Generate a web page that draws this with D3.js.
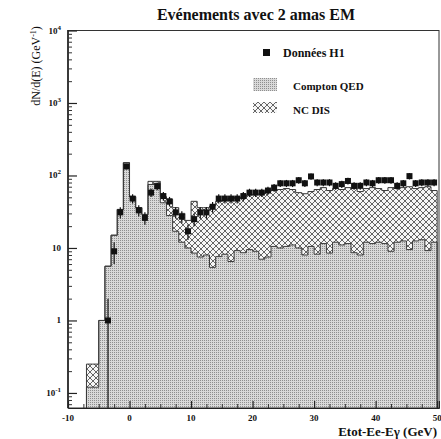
<!DOCTYPE html>
<html>
<head>
<meta charset="utf-8">
<script src="https://cdn.jsdelivr.net/npm/d3@7"></script>
<style>
  body { margin: 0; background: #fff; }
  svg text { font-family: "Liberation Serif", "DejaVu Serif", serif; fill: #111; }
</style>
</head>
<body>
<div id="chart"></div>
<script>
// bords des bins (GeV), 1 GeV par bin, de -7 a 50
const binEdges = d3.range(-7, 51);

// Compton QED (zone pointillee)
const compton = [0.12, 0.12, 1.0, 5.6, 15, 34, 150, 51, 36, 29,
  75, 78, 42, 28, 17, 12, 10, 8.5, 7.5, 8,
  5.4, 7.6, 8.2, 6.5, 9.2, 8.6, 9.5, 9.0, 7.0, 7.5,
  10.5, 10, 10.5, 11, 10, 8.0, 10.5, 8.2, 11.5, 8.5,
  12, 11, 11.5, 8.6, 8.0, 12, 11.5, 12, 11.5, 9.0,
  12, 12.5, 9.5, 12.5, 13, 9.2, 12];

// NC DIS (hachures), empile sur Compton
const ncdis = [0.13, 0.13, 0, 0, 0, 0, 0, 0, 0, 0,
  8, 5, 9, 19, 19, 18, 14, 35.5, 28.5, 28,
  32.6, 36.4, 37.8, 41.5, 40.8, 41.4, 44.5, 46, 49, 52.5,
  51.5, 54, 55.5, 53, 48, 48, 49.5, 55.8, 56.5, 53.5,
  54, 53, 56.5, 57.4, 52, 54, 56.5, 54, 50.5, 59,
  54, 55.5, 60.5, 53.5, 55, 60.8, 50];

// Donnees H1
const donnees = [null, null, null, 1, 9, 31, 133, 48, 33, 26,
  58, 71, 52, 44, 31, 27, 17, 25, 31, 31,
  37, 48, 48, 48, 48, 52, 58, 58, 58, 62,
  68, 78, 78, 78, 86, 78, 97, 80, 80, 80,
  72, 76, 84, 72, 72, 80, 78, 86, 86, 86,
  72, 78, 98, 78, 80, 80, 80];

const xTicks = [-10, 0, 10, 20, 30, 40, 50];
const yTicks = [0.1, 1, 10, 100, 1000, 10000];
const yTickLabels = [["10", "-1"], ["1", ""], ["10", ""], ["10", "2"], ["10", "3"], ["10", "4"]];

const width = 441, height = 439;
const svg = d3.select("#chart").append("svg")
  .attr("width", width).attr("height", height);

const x = d3.scaleLinear().domain([-10, 50.3]).range([68, 439]);
const y = d3.scaleLog().domain([0.062, 10000]).range([408, 30.5]).clamp(true);
const bottom = y.range()[0];

// motifs : pointille et hachures croisees
const defs = svg.append("defs");
const stip = defs.append("pattern").attr("id", "stipple")
  .attr("width", 2).attr("height", 2).attr("patternUnits", "userSpaceOnUse");
stip.append("rect").attr("width", 2).attr("height", 2).attr("fill", "#d9d9d9");
stip.append("rect").attr("width", 1).attr("height", 1).attr("fill", "#8f8f8f");

const hatch = defs.append("pattern").attr("id", "hatch")
  .attr("width", 6).attr("height", 6).attr("patternUnits", "userSpaceOnUse");
hatch.append("rect").attr("width", 6).attr("height", 6).attr("fill", "#f6f6f6");
hatch.append("path")
  .attr("d", "M0,0L6,6M6,0L0,6M-1,1L1,-1M5,7L7,5M-1,5L1,7M5,-1L7,1")
  .attr("stroke", "#555").attr("stroke-width", 0.9);

// points en escalier pour un histogramme
const bins = compton.map((c, i) => ({
  lo: binEdges[i], hi: binEdges[i + 1], c: c, t: c + ncdis[i], d: donnees[i]
}));
const steps = bins.flatMap(b => [{ e: b.lo, b }, { e: b.hi, b }]);

// Compton
svg.append("path")
  .datum(steps)
  .attr("fill", "url(#stipple)")
  .attr("d", d3.area().x(d => x(d.e)).y0(bottom).y1(d => y(d.b.c)));

// NC DIS au-dessus
svg.append("path")
  .datum(steps)
  .attr("fill", "url(#hatch)")
  .attr("d", d3.area().x(d => x(d.e)).y0(d => y(d.b.c)).y1(d => y(d.b.t)));

// contours
const outline = d3.line().x(d => x(d.e)).y(d => d.v);
function edgeLine(key) {
  const pts = [{ e: binEdges[0], v: bottom }]
    .concat(steps.map(s => ({ e: s.e, v: y(s.b[key]) })))
    .concat([{ e: binEdges[binEdges.length - 1], v: bottom }]);
  svg.append("path").datum(pts)
    .attr("fill", "none").attr("stroke", "#3a3a3a").attr("stroke-width", 1)
    .attr("d", outline);
}
edgeLine("c");
edgeLine("t");

// donnees avec barres d'erreur
const pts = bins.filter(b => b.d !== null);
svg.selectAll("line.err").data(pts).join("line")
  .attr("class", "err")
  .attr("x1", b => x((b.lo + b.hi) / 2)).attr("x2", b => x((b.lo + b.hi) / 2))
  .attr("y1", b => y(b.d + Math.sqrt(b.d)))
  .attr("y2", b => b.d - Math.sqrt(b.d) > 0 ? y(b.d - Math.sqrt(b.d)) : bottom)
  .attr("stroke", "#111").attr("stroke-width", 1.2);
svg.selectAll("rect.pt").data(pts).join("rect")
  .attr("class", "pt")
  .attr("x", b => x((b.lo + b.hi) / 2) - 3)
  .attr("y", b => y(b.d) - 3)
  .attr("width", 6).attr("height", 6)
  .attr("fill", "#111");

// cadre
svg.append("rect")
  .attr("x", 68).attr("y", 30.5).attr("width", 371).attr("height", bottom - 30.5)
  .attr("fill", "none").attr("stroke", "#333").attr("stroke-width", 1);
svg.append("line").attr("x1", 68).attr("x2", 68).attr("y1", 30).attr("y2", bottom)
  .attr("stroke", "#222").attr("stroke-width", 1.6);

// axe Y (ticks vers l'interieur)
const minorY = [];
for (let k = -2; k <= 3; k++) for (let m = 2; m <= 9; m++) {
  const v = m * Math.pow(10, k);
  if (v > 0.062 && v < 10000) minorY.push(v);
}
svg.append("g").attr("transform", "translate(68,0)")
  .call(d3.axisLeft(y).tickValues(minorY).tickSize(-4).tickFormat(""))
  .call(g => g.select(".domain").remove())
  .call(g => g.selectAll("line").attr("stroke", "#333"));
svg.append("g").attr("transform", "translate(68,0)")
  .call(d3.axisLeft(y).tickValues(yTicks).tickSize(-9).tickFormat(""))
  .call(g => g.select(".domain").remove())
  .call(g => g.selectAll("line").attr("stroke", "#222").attr("stroke-width", 1.2));

const yl = svg.append("g").selectAll("text").data(yTicks).join("text")
  .attr("x", 61).attr("y", d => y(d) + 3)
  .attr("text-anchor", "end")
  .attr("font-size", 9).attr("font-weight", "bold");
yl.append("tspan").text((d, i) => yTickLabels[i][0]);
yl.append("tspan").attr("dy", -4).attr("font-size", 7)
  .text((d, i) => yTickLabels[i][1]);

// axe X
const minorX = d3.range(-7.5, 50, 2.5).filter(v => v % 10 !== 0);
svg.append("g").attr("transform", `translate(0,${bottom})`)
  .call(d3.axisBottom(x).tickValues(minorX).tickSize(-4).tickFormat(""))
  .call(g => g.select(".domain").remove())
  .call(g => g.selectAll("line").attr("stroke", "#333"));
svg.append("g").attr("transform", `translate(0,${bottom})`)
  .call(d3.axisBottom(x).tickValues(xTicks).tickSize(-7).tickFormat(""))
  .call(g => g.select(".domain").attr("stroke", "#222"))
  .call(g => g.selectAll("line").attr("stroke", "#222").attr("stroke-width", 1.2));
svg.append("g").selectAll("text").data(xTicks).join("text")
  .attr("x", d => x(d)).attr("y", 421)
  .attr("text-anchor", "middle")
  .attr("font-size", 9).attr("font-weight", "bold")
  .text(d => d);

// titres
svg.append("text").attr("x", 256).attr("y", 20)
  .attr("text-anchor", "middle").attr("font-size", 16).attr("font-weight", "bold")
  .text("Evénements avec 2 amas EM");
svg.append("text").attr("x", 437).attr("y", 436)
  .attr("text-anchor", "end").attr("font-size", 13).attr("font-weight", "bold")
  .text("Etot-Ee-Eγ (GeV)");
const yt = svg.append("text")
  .attr("transform", "translate(40,66) rotate(-90)")
  .attr("text-anchor", "middle").attr("font-size", 12);
yt.append("tspan").text("dN/d(E) (GeV");
yt.append("tspan").attr("dy", -4).attr("font-size", 8).text("-1");
yt.append("tspan").attr("dy", 4).text(")");

// legende
svg.append("rect").attr("x", 263).attr("y", 49).attr("width", 7).attr("height", 7).attr("fill", "#111");
svg.append("text").attr("x", 283).attr("y", 57).attr("font-size", 12).attr("font-weight", "bold")
  .text("Données H1");
svg.append("rect").attr("x", 253).attr("y", 78).attr("width", 24).attr("height", 13).attr("fill", "url(#stipple)");
svg.append("text").attr("x", 293).attr("y", 90).attr("font-size", 11).attr("font-weight", "bold")
  .text("Compton QED");
svg.append("rect").attr("x", 253).attr("y", 102).attr("width", 24).attr("height", 11).attr("fill", "url(#hatch)");
svg.append("text").attr("x", 293).attr("y", 114).attr("font-size", 11).attr("font-weight", "bold")
  .text("NC DIS");
</script>
</body>
</html>
